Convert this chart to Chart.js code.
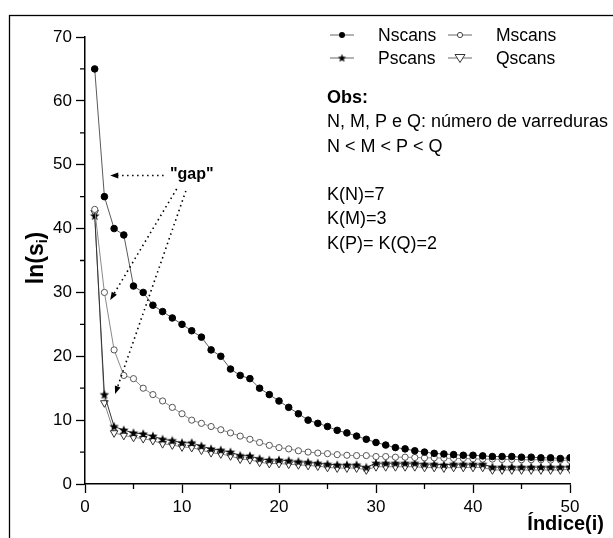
<!DOCTYPE html>
<html>
<head>
<meta charset="utf-8">
<script src="https://cdn.jsdelivr.net/npm/chart.js@4/dist/chart.umd.min.js"></script>
<style>
  body { margin: 0; background: #fff; }
  #wrap { width: 613px; height: 538px; position: relative; }
</style>
</head>
<body>
<div id="wrap"><canvas id="chart"></canvas></div>
<script>
const FONT = "'Liberation Sans', Arial, sans-serif";

// indice i
const indices = [1, 2, 3, 4, 5, 6, 7, 8, 9, 10, 11, 12, 13, 14, 15, 16, 17, 18, 19, 20,
    21, 22, 23, 24, 25, 26, 27, 28, 29, 30, 31, 32, 33, 34, 35, 36, 37, 38, 39, 40,
    41, 42, 43, 44, 45, 46, 47, 48, 49, 50];

const nScans = [65, 45, 40, 39, 31, 30, 28, 27, 26, 25, 24, 23, 21, 20, 18, 17, 16.5, 15, 14, 13,
    12, 11, 10, 9.5, 9, 8.4, 8, 7.5, 7, 6.5, 6.1, 5.7, 5.5, 5.2, 5.0, 4.8, 4.7, 4.6, 4.5, 4.5,
    4.4, 4.3, 4.3, 4.3, 4.2, 4.2, 4.1, 4.1, 4.0, 4.1];

const mScans = [43, 30, 21, 17, 16.5, 15, 14, 13, 12, 11, 10, 9.5, 9, 8.5, 8, 7.5, 7, 6.5, 6.05, 5.7,
    5.5, 5.2, 5.0, 4.85, 4.75, 4.6, 4.5, 4.45, 4.45, 4.3, 4.3, 4.2, 4.2, 4.15, 4.1, 4.1, 4.05, 4.0, 4.0, 3.95,
    3.9, 3.9, 3.85, 3.85, 3.8, 3.8, 3.8, 3.75, 3.75, 3.7];

const pScans = [42, 14, 9, 8.45, 8.0, 7.85, 7.5, 7.0, 6.8, 6.45, 6.45, 5.95, 5.5, 5.3, 5.0, 4.45, 4.4, 3.95, 3.75, 3.75,
    3.65, 3.5, 3.4, 3.25, 3.1, 3.0, 3.0, 3.0, 2.6, 3.25, 3.25, 3.25, 3.25, 3.25, 3.1, 3.1, 3.0, 3.1, 3.1, 3.1,
    3.1, 2.65, 2.65, 2.65, 2.65, 2.65, 2.65, 2.65, 2.65, 2.7];

const qScans = [42.5, 12.7, 8.0, 7.6, 7.3, 7.1, 6.8, 6.3, 6.1, 5.8, 5.7, 5.3, 4.9, 4.7, 4.4, 3.9, 3.8, 3.4, 3.2, 3.2,
    3.1, 3.0, 2.9, 2.8, 2.6, 2.5, 2.5, 2.5, 2.2, 2.7, 2.7, 2.7, 2.7, 2.7, 2.6, 2.6, 2.5, 2.6, 2.6, 2.6,
    2.6, 2.2, 2.2, 2.2, 2.2, 2.2, 2.2, 2.2, 2.2, 2.3];

const seriesNames = ["Nscans", "Mscans", "Pscans", "Qscans"];

const xTicks = [0, 10, 20, 30, 40, 50];
const yTicks = [0, 10, 20, 30, 40, 50, 60, 70];

const obsLines = [
    { text: "Obs:", bold: true },
    { text: "N, M, P e Q: número de varreduras" },
    { text: "N < M < P < Q" },
    { text: "" },
    { text: "K(N)=7" },
    { text: "K(M)=3" },
    { text: "K(P)= K(Q)=2" },
];

// "gap" note, in data units: label spot and three arrows (from -> to)
const gapLabel = { x: 11.0, y: 48.4 };
const gapArrows = [
    { from: [8.1, 48.3], to: [2.6, 48.3] },
    { from: [9.45, 46.2], to: [2.6, 28.8] },
    { from: [10.4, 45.9], to: [3.1, 14.1] },
];

function makeStar(r) {
    const c = document.createElement("canvas");
    const s = Math.ceil(r * 2) + 2;
    c.width = s;
    c.height = s;
    const g = c.getContext("2d");
    g.beginPath();
    for (let k = 0; k < 10; k++) {
        const rr = k % 2 ? r * 0.42 : r;
        const a = -Math.PI / 2 + k * Math.PI / 5;
        g.lineTo(s / 2 + rr * Math.cos(a), s / 2 + rr * Math.sin(a) + 0.3);
    }
    g.closePath();
    g.fillStyle = "#000";
    g.fill();
    return c;
}

const starBig = makeStar(5);
const starSmall = makeStar(4.4);

function toPoints(values) {
    return indices.map((x, k) => ({ x, y: values[k] }));
}

const datasets = [
    {
        label: seriesNames[0], data: toPoints(nScans),
        borderColor: "#5a5a5a", borderWidth: 1,
        pointStyle: "circle", pointRadius: 3.3, pointBackgroundColor: "#000", pointBorderColor: "#000", pointBorderWidth: 1,
    },
    {
        label: seriesNames[1], data: toPoints(mScans),
        borderColor: "#8a8a8a", borderWidth: 1,
        pointStyle: "circle", pointRadius: 3.1, pointBackgroundColor: "#fff", pointBorderColor: "#555", pointBorderWidth: 1,
    },
    {
        label: seriesNames[2], data: toPoints(pScans),
        borderColor: "#333", borderWidth: 1,
        pointStyle: starBig, pointRadius: 4,
    },
    {
        label: seriesNames[3], data: toPoints(qScans),
        borderColor: "#888", borderWidth: 1,
        pointStyle: "triangle", pointRotation: 180, pointRadius: 4.4,
        pointBackgroundColor: "#fff", pointBorderColor: "#333", pointBorderWidth: 1,
    },
];

function arrow(ctx, x1, y1, x2, y2) {
    const a = Math.atan2(y2 - y1, x2 - x1);
    const len = 8, hw = 3;
    const bx = x2 - len * Math.cos(a), by = y2 - len * Math.sin(a);
    ctx.save();
    ctx.setLineDash([1.5, 3.5]);
    ctx.lineWidth = 1.6;
    ctx.strokeStyle = "#000";
    ctx.beginPath();
    ctx.moveTo(x1, y1);
    ctx.lineTo(bx, by);
    ctx.stroke();
    ctx.setLineDash([]);
    ctx.fillStyle = "#000";
    ctx.beginPath();
    ctx.moveTo(x2, y2);
    ctx.lineTo(bx + hw * Math.sin(a), by - hw * Math.cos(a));
    ctx.lineTo(bx - hw * Math.sin(a), by + hw * Math.cos(a));
    ctx.closePath();
    ctx.fill();
    ctx.restore();
}

function legendMarker(ctx, i, x, y) {
    ctx.save();
    ctx.lineWidth = 1;
    if (i === 0) {
        ctx.fillStyle = "#000";
        ctx.beginPath(); ctx.arc(x, y, 3, 0, Math.PI * 2); ctx.fill();
    } else if (i === 1) {
        ctx.fillStyle = "#fff"; ctx.strokeStyle = "#444";
        ctx.beginPath(); ctx.arc(x, y, 2.6, 0, Math.PI * 2); ctx.fill(); ctx.stroke();
    } else if (i === 2) {
        ctx.drawImage(starSmall, x - starSmall.width / 2, y - starSmall.height / 2);
    } else {
        ctx.fillStyle = "#fff"; ctx.strokeStyle = "#333";
        ctx.beginPath();
        ctx.moveTo(x - 5, y - 3.5); ctx.lineTo(x + 5, y - 3.5); ctx.lineTo(x, y + 4.5);
        ctx.closePath(); ctx.fill(); ctx.stroke();
    }
    ctx.restore();
}

const extras = {
    id: "extras",
    beforeDraw(chart) {
        const ctx = chart.ctx;
        ctx.save();
        ctx.strokeStyle = "#000";
        ctx.lineWidth = 1.3;
        ctx.strokeRect(9.5, 15.5, 700, 600);
        ctx.restore();
    },
    afterDraw(chart) {
        const ctx = chart.ctx;
        const xs = chart.scales.x, ys = chart.scales.y;
        ctx.save();

        // minor ticks
        ctx.strokeStyle = "#000";
        ctx.lineWidth = 1.3;
        ctx.beginPath();
        for (let v = 5; v < 50; v += 10) {
            const px = xs.getPixelForValue(v);
            ctx.moveTo(px, ys.bottom); ctx.lineTo(px, ys.bottom + 5);
        }
        for (let v = 5; v < 70; v += 10) {
            const py = ys.getPixelForValue(v);
            ctx.moveTo(xs.left, py); ctx.lineTo(xs.left - 5, py);
        }
        ctx.stroke();

        // legend
        ctx.font = "17.5px " + FONT;
        ctx.textBaseline = "middle";
        ctx.fillStyle = "#000";
        const spots = [[330, 35], [448, 35], [330, 58], [448, 58]];
        spots.forEach(([x0, y0], i) => {
            ctx.strokeStyle = "#666";
            ctx.lineWidth = 1;
            ctx.beginPath(); ctx.moveTo(x0, y0); ctx.lineTo(x0 + 24, y0); ctx.stroke();
            legendMarker(ctx, i, x0 + 12, y0);
            ctx.fillStyle = "#000";
            ctx.fillText(seriesNames[i], x0 + 48, y0 + 1);
        });

        // obs text
        obsLines.forEach((l, k) => {
            ctx.font = (l.bold ? "bold " : "") + "18px " + FONT;
            ctx.fillText(l.text, 327, 98 + k * 24.3);
        });

        // gap note
        ctx.font = "bold 16px " + FONT;
        ctx.textAlign = "center";
        ctx.fillText("\"gap\"", xs.getPixelForValue(gapLabel.x), ys.getPixelForValue(gapLabel.y));
        gapArrows.forEach(a => {
            arrow(ctx, xs.getPixelForValue(a.from[0]), ys.getPixelForValue(a.from[1]),
                xs.getPixelForValue(a.to[0]), ys.getPixelForValue(a.to[1]));
        });

        // axis titles
        ctx.font = "bold 20px " + FONT;
        ctx.textAlign = "right";
        ctx.textBaseline = "alphabetic";
        ctx.fillText("Índice(i)", 604, 530);

        ctx.translate(43, 258);
        ctx.rotate(-Math.PI / 2);
        ctx.textAlign = "left";
        const main = "ln(s", sub = "i", close = ")";
        ctx.font = "bold 23px " + FONT;
        const w1 = ctx.measureText(main).width;
        const w3 = ctx.measureText(close).width;
        ctx.font = "bold 14px " + FONT;
        const w2 = ctx.measureText(sub).width;
        let x = -(w1 + w2 + w3) / 2;
        ctx.font = "bold 23px " + FONT;
        ctx.fillText(main, x, 0);
        ctx.font = "bold 14px " + FONT;
        ctx.fillText(sub, x + w1, 4);
        ctx.font = "bold 23px " + FONT;
        ctx.fillText(close, x + w1 + w2, 0);

        ctx.restore();
    },
};

const tickFont = { family: FONT, size: 17 };

new Chart(document.getElementById("chart"), {
    type: "line",
    data: { datasets },
    options: {
        responsive: true,
        maintainAspectRatio: false,
        animation: false,
        layout: { padding: { top: 37, right: 43, bottom: 0, left: 0 } },
        elements: { line: { tension: 0 } },
        plugins: { legend: { display: false }, tooltip: { enabled: false } },
        scales: {
            x: {
                type: "linear", min: 0, max: 50,
                afterBuildTicks: s => { s.ticks = xTicks.map(v => ({ value: v })); },
                afterFit: s => { s.height = 54; },
                ticks: { color: "#000", font: tickFont, padding: 4, maxRotation: 0 },
                grid: { drawOnChartArea: false, tickLength: 9, tickWidth: 1.3, tickColor: "#000" },
                border: { color: "#000", width: 1.5 },
            },
            y: {
                type: "linear", min: 0, max: 70,
                afterBuildTicks: s => { s.ticks = yTicks.map(v => ({ value: v })); },
                afterFit: s => { s.width = 85; },
                ticks: { color: "#000", font: tickFont, padding: 4 },
                grid: { drawOnChartArea: false, tickLength: 9, tickWidth: 1.3, tickColor: "#000" },
                border: { color: "#000", width: 1.5 },
            },
        },
    },
    plugins: [extras],
});
</script>
</body>
</html>
